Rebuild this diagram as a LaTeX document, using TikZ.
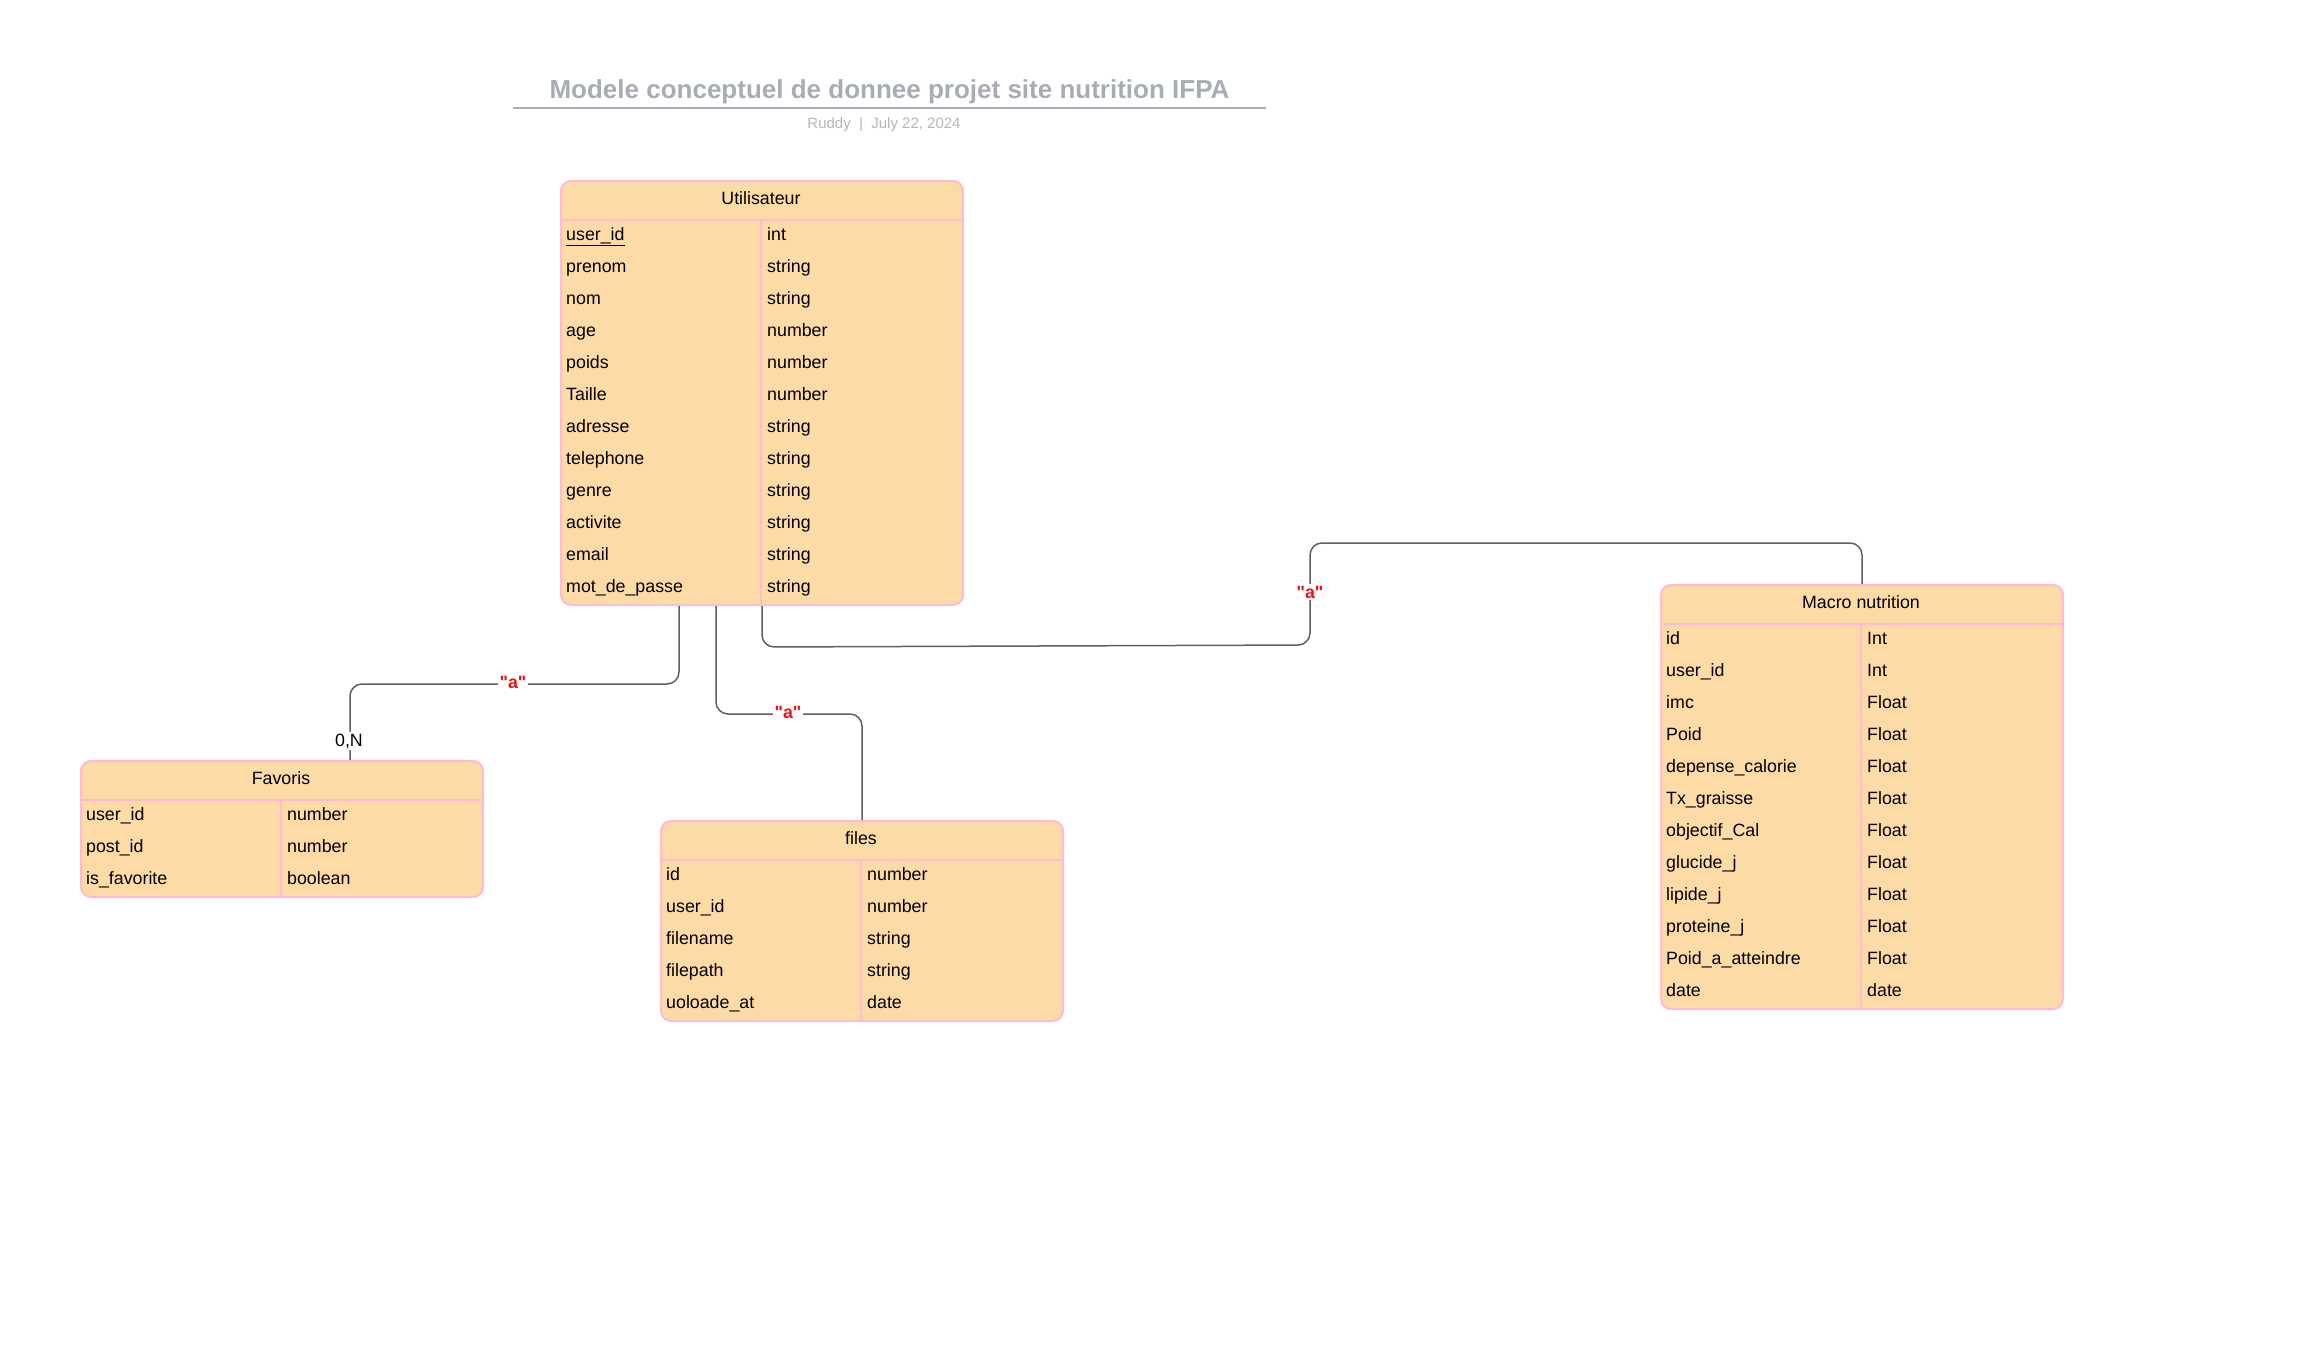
\documentclass[tikz,border=0pt]{standalone}
\usepackage{fontspec}
\setmainfont{Liberation Sans}
\definecolor{entfill}{HTML}{FDDBA6}
\definecolor{entborder}{HTML}{FFBBD6}
\definecolor{conncol}{HTML}{5F5F5F}
\definecolor{lblred}{HTML}{EE1111}
\definecolor{titlegray}{HTML}{A7ACB6}
\definecolor{subgray}{HTML}{B2B6BE}
\definecolor{rulegray}{HTML}{A9AEB7}
\newcommand{\rowfont}{\fontsize{17.8}{20}\selectfont}
\newcommand{\qa}{\textquotedbl a\textquotedbl}
\newcommand{\erentity}[5]{%
  \pgfmathsetmacro{\erh}{40+32*#4}%
  \node[ent, minimum height=\erh pt] (#1) at (#2,#3) {};
  \draw[sep] (#2,#3+40) -- (#2+402,#3+40);
  \draw[sep] (#2+201,#3+40) -- (#2+201,#3+\erh);
  \node[head] (#1-title) at (#2+201,#3+24) {#5};
}
\newcommand{\errows}[4]{%
  \foreach \k/\a/\b in {#4} {
    \node[cell] (#1-a\k) at (#2+6,{#3+60+32*\k}) {\a};
    \node[cell] (#1-b\k) at (#2+207,{#3+60+32*\k}) {\b};
  }
}
\begin{document}
\begin{tikzpicture}[x=1pt,y=-1pt,
  ent/.style={draw=entborder, fill=entfill, line width=2pt, rounded corners=10pt,
    minimum width=402pt, inner sep=0pt, anchor=north west},
  sep/.style={draw=entborder, line width=2pt},
  cell/.style={anchor=base west, inner sep=0pt, font=\rowfont},
  head/.style={anchor=base, inner sep=0pt, font=\rowfont},
  conn/.style={draw=conncol, line width=1.5pt, rounded corners=12pt},
  lbl/.style={fill=white, text=lblred, font=\rowfont\bfseries, inner sep=2pt},
  card/.style={fill=white, font=\rowfont, inner sep=2pt}]
\useasboundingbox (0,0) rectangle (2320,1360);

% title block
\node[anchor=base, font=\fontsize{26}{30}\selectfont\bfseries, text=titlegray, inner sep=0pt]
  (title) at (889.5,98) {Modele conceptuel de donnee projet site nutrition IFPA};
\coordinate (ruleL) at (513,108);
\coordinate (ruleR) at (1266,108);
\draw[draw=rulegray, line width=2pt] (ruleL) -- (ruleR);
\node[anchor=base, font=\fontsize{15}{18}\selectfont, text=subgray, inner sep=0pt]
  (subtitle) at (884,128) {Ruddy~~|~~July 22, 2024};

% entities
\erentity{util}{560}{180}{12}{Utilisateur}
\errows{util}{560}{180}{0/{\underline{user\_id}}/int, 1/prenom/string, 2/nom/string,
  3/age/number, 4/poids/number, 5/Taille/number, 6/adresse/string,
  7/telephone/string, 8/genre/string, 9/activite/string, 10/email/string,
  11/mot\_de\_passe/string}

\erentity{fav}{80}{760}{3}{Favoris}
\errows{fav}{80}{760}{0/user\_id/number, 1/post\_id/number, 2/is\_favorite/boolean}

\erentity{files}{660}{820}{5}{files}
\errows{files}{660}{820}{0/id/number, 1/user\_id/number, 2/filename/string,
  3/filepath/string, 4/uoloade\_at/date}

\erentity{macro}{1660}{584}{12}{Macro nutrition}
\errows{macro}{1660}{584}{0/id/Int, 1/user\_id/Int, 2/imc/Float, 3/Poid/Float,
  4/depense\_calorie/Float, 5/Tx\_graisse/Float, 6/objectif\_Cal/Float,
  7/glucide\_j/Float, 8/lipide\_j/Float, 9/proteine\_j/Float,
  10/Poid\_a\_atteindre/Float, 11/date/date}

% connectors
\draw[conn] ([xshift=-83pt]util.south) -- ++(0,78) -| ([xshift=68pt]fav.north);
\draw[conn] ([xshift=-46pt]util.south) -- ++(0,108) -| (files.north);
\draw[conn] (util.south) -- ++(0,41) -- (1310,645) -- (1310,543) -| (macro.north);

% labels
\node[lbl] (l1) at (513,682) {\qa};
\node[card] (n1) at (349,741) {0,N};
\node[lbl] (l2) at (788,712) {\qa};
\node[lbl] (l3) at (1310,592) {\qa};
\end{tikzpicture}
\end{document}
